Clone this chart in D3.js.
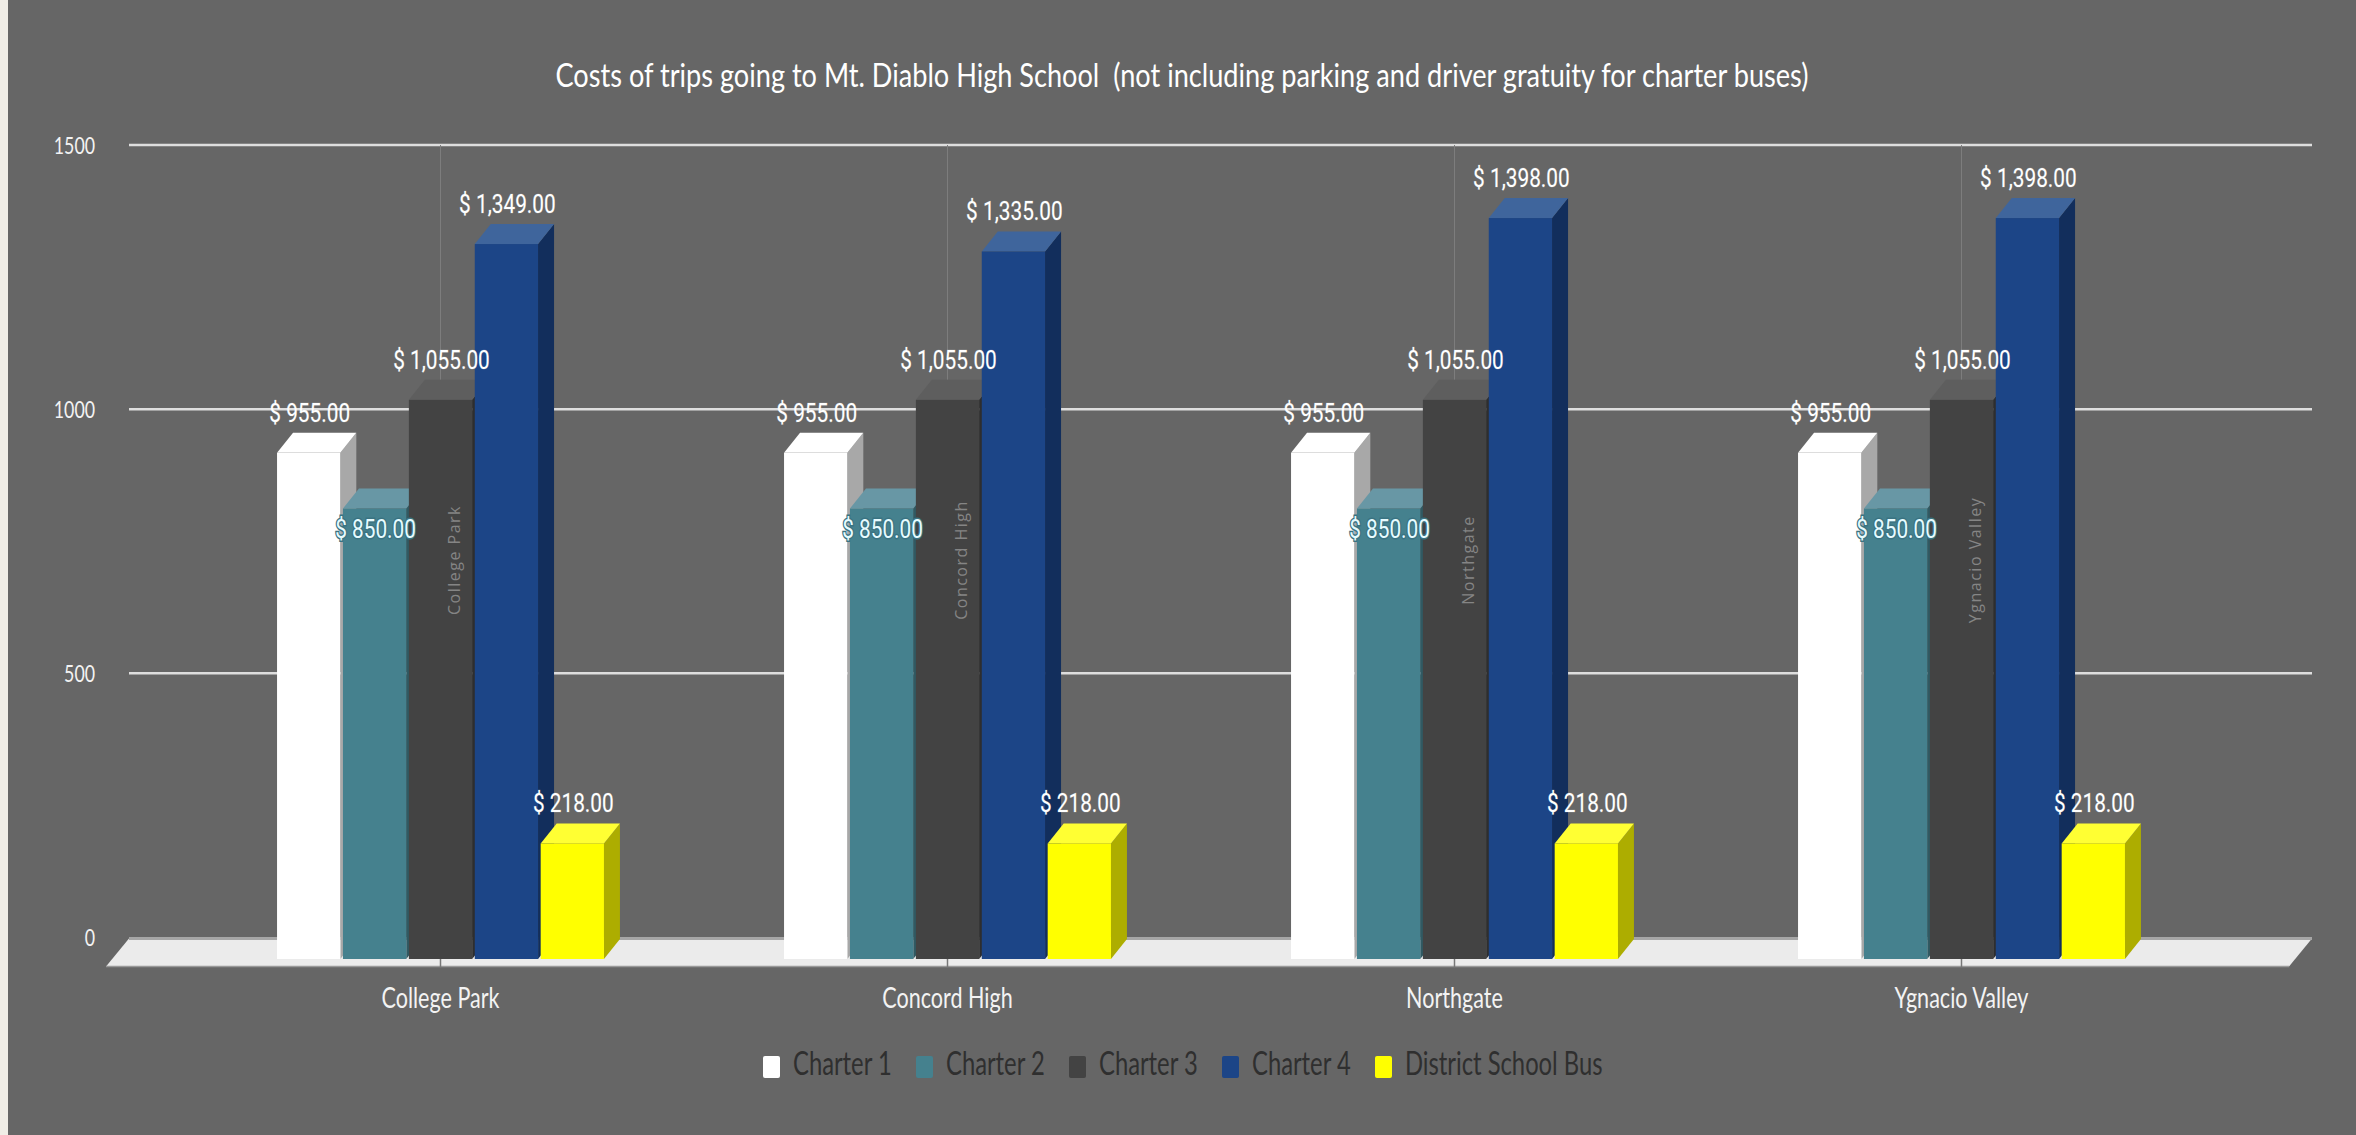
<!DOCTYPE html>
<html>
<head>
<meta charset="utf-8">
<script src="https://cdnjs.cloudflare.com/ajax/libs/d3/7.8.5/d3.min.js"></script>
<style>
  html, body { margin: 0; padding: 0; background: #666666; overflow: hidden; }
  svg { display: block; }
  text { font-family: Lato, sans-serif; }
</style>
</head>
<body>
<svg id="chart" width="2356" height="1135"></svg>
<script>
const title = "Costs of trips going to Mt. Diablo High School  (not including parking and driver gratuity for charter buses)";
const schools = ["College Park", "Concord High", "Northgate", "Ygnacio Valley"];
const seriesNames = ["Charter 1", "Charter 2", "Charter 3", "Charter 4", "District School Bus"];
const charter1 = [955, 955, 955, 955];
const charter2 = [850, 850, 850, 850];
const charter3 = [1055, 1055, 1055, 1055];
const charter4 = [1349, 1335, 1398, 1398];
const schoolBus = [218, 218, 218, 218];
const yTicks = [0, 500, 1000, 1500];

const seriesValues = [charter1, charter2, charter3, charter4, schoolBus];
const frontColor = ["#ffffff", "#45818e", "#434343", "#1c4587", "#ffff00"];
const topColor = ["#ffffff", "#6897a5", "#5e5e5e", "#3f659c", "#ffff33"];
const sideColor = ["#a8a8a8", "#305a63", "#2e2e2e", "#122e5c", "#adad00"];

const width = 2356, height = 1135;
const depthX = 16, depthY = 20;
const svg = d3.select("#chart");

// bars stand on the front edge, the grid lives on the back wall
const yFront = d3.scaleLinear().domain([0, 1500]).range([959, 164]);
const yGrid = d3.scaleLinear().domain([0, 1500]).range([937.5, 145]);
const x0 = d3.scaleBand().domain(schools).range([187, 2215]).paddingInner(0.35).paddingOuter(0.175);
const x1 = d3.scaleBand().domain(seriesNames).range([0, x0.bandwidth()]).paddingInner(0.04).paddingOuter(0.02);
const money = d3.format(",.2f");

// the fonts here are wider than the original one
function squeeze(sel, k) {
    sel.each(function () {
        this.setAttribute("textLength", this.getComputedTextLength() * k);
        this.setAttribute("lengthAdjust", "spacingAndGlyphs");
    });
}

svg.append("rect").attr("width", width).attr("height", height).attr("fill", "#666666");
svg.append("rect").attr("width", 8).attr("height", height).attr("fill", "#f0ede6");

svg.append("text")
    .attr("x", 1182).attr("y", 79)
    .attr("text-anchor", "middle").attr("dominant-baseline", "middle")
    .attr("fill", "#ffffff").style("font-size", "32px").style("white-space", "pre")
    .text(title)
    .call(squeeze, 0.848);

// Y axis and gridlines
const yAxis = svg.append("g")
    .attr("transform", "translate(129,0)")
    .call(d3.axisLeft(yGrid).tickValues(yTicks).tickSize(0).tickPadding(34).tickFormat(d3.format("d")));
yAxis.select(".domain").remove();
yAxis.selectAll("text").attr("fill", "#f3f3f3").style("font-size", "24px").attr("dy", "0.35em").call(squeeze, 0.74);

svg.append("g").selectAll("line")
    .data(yTicks.filter(d => d > 0))
    .join("line")
    .attr("x1", 129).attr("x2", 2312)
    .attr("y1", d => yGrid(d)).attr("y2", d => yGrid(d))
    .attr("stroke", "#dedede").attr("stroke-width", 2.5);

// thin lines behind the bars
svg.append("g").selectAll("line")
    .data(schools)
    .join("line")
    .attr("x1", d => x0(d) + x0.bandwidth() / 2).attr("x2", d => x0(d) + x0.bandwidth() / 2)
    .attr("y1", yGrid(1500)).attr("y2", yFront(1055) - depthY)
    .attr("stroke", "#7d7d7d").attr("stroke-width", 1);

// floor
const floorY0 = yFront(0) - depthY - 0.5, floorY1 = floorY0 + 28;
svg.append("path")
    .attr("d", d3.line()([[129, floorY0], [2312, floorY0], [2289, floorY1], [106, floorY1]]) + "Z")
    .attr("fill", "#ebebeb");
svg.append("line")
    .attr("x1", 129).attr("x2", 2312).attr("y1", floorY0).attr("y2", floorY0)
    .attr("stroke", "#a6a6a6").attr("stroke-width", 3);
svg.append("line")
    .attr("x1", 106).attr("x2", 2289).attr("y1", floorY1).attr("y2", floorY1)
    .attr("stroke", "#999999").attr("stroke-width", 1.5);

// X axis
const xAxis = svg.append("g")
    .attr("transform", `translate(0,${yFront(0)})`)
    .call(d3.axisBottom(x0).tickSize(8).tickPadding(21));
xAxis.select(".domain").remove();
xAxis.selectAll("line").attr("stroke", "#777777").attr("stroke-width", 1.5);
xAxis.selectAll("text").attr("fill", "#f3f3f3").style("font-size", "28px").call(squeeze, 0.77);

// bars, left to right so each one covers the side of the previous one
const groups = svg.append("g").selectAll("g")
    .data(schools)
    .join("g")
    .attr("transform", d => `translate(${x0(d)},0)`);

seriesNames.forEach((name, s) => {
    const bars = groups.append("g").datum((d, i) => seriesValues[s][i]);
    const left = x1(name), right = left + x1.bandwidth();
    bars.append("path")
        .attr("d", v => d3.line()([[right, yFront(v)], [right + depthX, yFront(v) - depthY], [right + depthX, yFront(0) - depthY], [right, yFront(0)]]) + "Z")
        .attr("fill", sideColor[s]);
    bars.append("path")
        .attr("d", v => d3.line()([[left, yFront(v)], [left + depthX, yFront(v) - depthY], [right + depthX, yFront(v) - depthY], [right, yFront(v)]]) + "Z")
        .attr("fill", topColor[s]);
    bars.append("rect")
        .attr("x", left).attr("width", x1.bandwidth())
        .attr("y", v => yFront(v)).attr("height", v => yFront(0) - yFront(v))
        .attr("fill", frontColor[s]);
});

// school name printed over the dark bar
groups.append("text")
    .attr("transform", d => `translate(${x0.bandwidth() / 2 + 15},560) rotate(-90)`)
    .attr("text-anchor", "middle").attr("dominant-baseline", "middle")
    .attr("fill", "#858585")
    .style("font-family", "'Open Sans', sans-serif").style("font-size", "16px").style("letter-spacing", "1.5px")
    .text(d => d);

// value labels
seriesNames.forEach((name, s) => {
    const inside = s === 1;
    groups.append("text")
        .datum((d, i) => seriesValues[s][i])
        .attr("x", x1(name) + x1.bandwidth() / 2 + 1)
        .attr("y", v => yFront(v) + (inside ? 23 : -38))
        .attr("text-anchor", "middle").attr("dominant-baseline", "middle")
        .attr("fill", inside ? "#e6fbff" : "#ffffff")
        .attr("stroke", inside ? "#3a7382" : "rgba(255,255,255,0.18)")
        .attr("stroke-width", inside ? 3 : 1)
        .style("paint-order", "stroke")
        .style("font-family", "Roboto, sans-serif").style("font-size", "26px")
        .text(v => "$ " + money(v))
        .call(squeeze, 0.8);
});

// legend
const legendX = d3.scalePoint().domain(seriesNames.slice(0, 4)).range([763, 1222]);
const legend = svg.append("g").selectAll("g")
    .data(seriesNames)
    .join("g")
    .attr("transform", (d, i) => `translate(${i < 4 ? legendX(d) : 1375},0)`);
legend.append("rect")
    .attr("y", 1056).attr("width", 17).attr("height", 22).attr("rx", 2)
    .attr("fill", (d, i) => frontColor[i]);
legend.append("text")
    .attr("x", 30).attr("y", 1067)
    .attr("dominant-baseline", "middle")
    .attr("fill", "#2f2f2f").style("font-size", "32px")
    .text(d => d)
    .call(squeeze, 0.743);
</script>
</body>
</html>
